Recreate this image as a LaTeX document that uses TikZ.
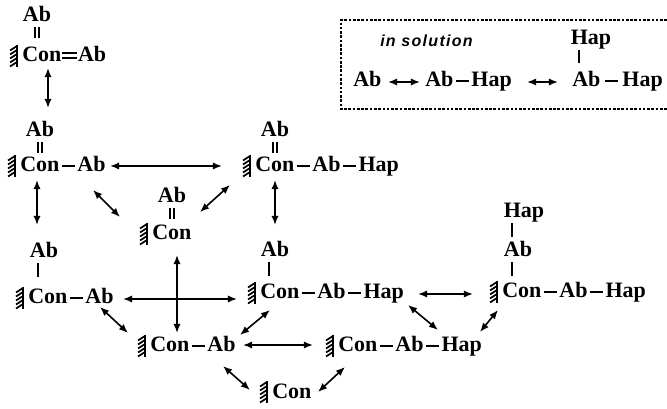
\documentclass[tikz,border=0pt]{standalone}
\usepackage{fontspec}
\setmainfont{Liberation Serif}
\newfontfamily\solfont[LetterSpace=8]{Liberation Sans}
\usepackage{tikz}
\usetikzlibrary{arrows.meta,calc}
\newcommand\spfont{\fontsize{16.5}{18}\selectfont\bfseries}
\newcommand\bnd{\hspace{2pt}\rule[3.6pt]{9.5pt}{1.7pt}\hspace{2pt}}
\newcommand\dbnd{\hspace{0.5pt}\rlap{\rule[2.4pt]{11pt}{1.6pt}}\rule[6.2pt]{11pt}{1.6pt}\hspace{1pt}}
\tikzset{
  rx/.style={{Latex[length=2.4mm,width=1.9mm]}-{Latex[length=2.4mm,width=1.9mm]}, line width=1.2pt},
  bd/.style={line width=1.4pt},
  sp/.style={font=\spfont, inner sep=0pt, anchor=base west},
  tl/.style={font=\spfont, inner sep=0pt, anchor=base},
  boxline/.style={line width=0.9pt, dash pattern=on 2pt off 1.2pt},
  surf/.pic={
    \draw[line width=1.5pt] (0,-17) -- (0,5);
    \foreach \k in {-16,-12,...,0} \draw[line width=1.3pt] (0,\k) -- (-7,\k+4.5);
  },
}

\begin{document}
\begin{tikzpicture}[x=0.75pt,y=-0.75pt]
  \useasboundingbox (0,0) rectangle (667,409);
  % surface species
  \node[sp] (n1) at (22,62) {Con\dbnd Ab};
  \node[sp] (n2) at (20,172) {Con\bnd Ab};
  \node[sp] (n3) at (255,172) {Con\bnd Ab\bnd Hap};
  \node[sp] (n4) at (152,240) {Con};
  \node[sp] (n5) at (28,304) {Con\bnd Ab};
  \node[sp] (n6) at (260,299) {Con\bnd Ab\bnd Hap};
  \node[sp] (n7) at (502,298) {Con\bnd Ab\bnd Hap};
  \node[sp] (n8) at (150,352) {Con\bnd Ab};
  \node[sp] (n9) at (338,352) {Con\bnd Ab\bnd Hap};
  \node[sp] (n10) at (272,398) {Con};
  \foreach \n in {n1,n2,n3,n4,n5,n6,n7,n8,n9,n10}
    \pic at ([shift={(-5,0)}]\n.base west) {surf};
  % upper groups
  \node[tl] (t1) at (37,22) {Ab};
  \node[tl] (t2) at (40,137) {Ab};
  \node[tl] (t3) at (275,137) {Ab};
  \node[tl] (t4) at (172,203) {Ab};
  \node[tl] (t5) at (44,258) {Ab};
  \node[tl] (t6) at (275,257) {Ab};
  \node[tl] (t7) at (524,218) {Hap};
  \node[tl] (t8) at (518,257) {Ab};
  \foreach \t in {t1,t2,t3,t4} {
    \draw[bd] ([shift={(-2.2,5)}]\t.base) -- ++(0,11);
    \draw[bd] ([shift={(2.2,5)}]\t.base) -- ++(0,11);
  }
  \foreach \t in {t5,t6,t7,t8}
    \draw[bd] ([shift={(8,5)}]\t.base west) -- ++(0,14);
  % equilibria
  \draw[rx] ([shift={(26,6)}]n1.base west) -- ([shift={(8,-29)}]t2.base);
  \draw[rx] ([shift={(17,8)}]n2.base west) -- ([shift={(-7,-33)}]t5.base);
  \draw[rx] ([shift={(90,-6)}]n2.base west) -- ([shift={(-33,-6)}]n3.base west);
  \draw[rx] ([shift={(73,18)}]n2.base west) -- ([shift={(-32,-23)}]n4.base west);
  \draw[rx] ([shift={(-25,13)}]n3.base west) -- ([shift={(48,-28)}]n4.base west);
  \draw[rx] ([shift={(20,8)}]n3.base west) -- ([shift={(0,-32)}]t6.base);
  \draw[rx] ([shift={(25,15)}]n4.base west) -- ([shift={(27,-19)}]n8.base west);
  \draw[rx] ([shift={(95,-5)}]n5.base west) -- ([shift={(-23,0)}]n6.base west);
  \draw[rx] ([shift={(158,-5)}]n6.base west) -- ([shift={(-29,-4)}]n7.base west);
  \draw[rx] ([shift={(72,3)}]n5.base west) -- ([shift={(-22,-19)}]n8.base west);
  \draw[rx] ([shift={(10,11)}]n6.base west) -- ([shift={(90,-17)}]n8.base west);
  \draw[rx] ([shift={(148,6)}]n6.base west) -- ([shift={(100,-22)}]n9.base west);
  \draw[rx] ([shift={(-4,12)}]n7.base west) -- ([shift={(142,-20)}]n9.base west);
  \draw[rx] ([shift={(93,-7)}]n8.base west) -- ([shift={(-25,-7)}]n9.base west);
  \draw[rx] ([shift={(73,14)}]n8.base west) -- ([shift={(-22,-8)}]n10.base west);
  \draw[rx] ([shift={(7,15)}]n9.base west) -- ([shift={(46,-6)}]n10.base west);
  % in solution
  \draw[boxline] (667,20) -- (341,20) -- (341,109) -- (667,109);
  \node[inner sep=0pt, anchor=base west, font=\solfont\fontsize{12}{14}\selectfont\bfseries\itshape] (sol) at (380,47) {in solution};
  \node[sp] (i1) at (353,87) {Ab};
  \node[sp] (i2) at (425,87) {Ab\bnd Hap};
  \node[sp] (i3) at (572,87) {Ab\hspace{1.5pt}\bnd\hspace{1.5pt}Hap};
  \node[tl] (i4) at (591,45) {Hap};
  \draw[bd] ([shift={(8,5)}]i4.base west) -- ++(0,13);
  \draw[rx] ([shift={(35,-5)}]i1.base west) -- ([shift={(-5,-5)}]i2.base west);
  \draw[rx] ([shift={(102,-5)}]i2.base west) -- ([shift={(-14,-5)}]i3.base west);
\end{tikzpicture}
\end{document}
